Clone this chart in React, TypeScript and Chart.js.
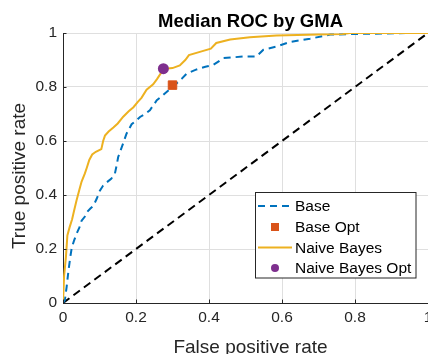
import React, { useEffect, useRef } from "react";
import { Chart, registerables } from "chart.js";

Chart.register(...registerables);

const TITLE = "Median ROC by GMA";
const X_LABEL = "False positive rate";
const Y_LABEL = "True positive rate";
const TICKS = [0, 0.2, 0.4, 0.6, 0.8, 1];

const BASE_FPR = [0, 0.005, 0.01, 0.015, 0.02, 0.024, 0.03, 0.037, 0.045, 0.051, 0.06, 0.065, 0.075, 0.083, 0.092, 0.101, 0.11, 0.12, 0.132, 0.142, 0.147, 0.151, 0.161, 0.174, 0.188, 0.2, 0.211, 0.225, 0.238, 0.257, 0.27, 0.279, 0.295, 0.311, 0.325, 0.339, 0.366, 0.39, 0.412, 0.44, 0.494, 0.53, 0.549, 0.585, 0.622, 0.677, 0.732, 0.79, 0.95, 1];
const BASE_TPR = [0, 0.01, 0.06, 0.12, 0.17, 0.205, 0.23, 0.256, 0.28, 0.305, 0.32, 0.336, 0.35, 0.36, 0.385, 0.416, 0.435, 0.447, 0.46, 0.478, 0.51, 0.54, 0.577, 0.627, 0.662, 0.675, 0.689, 0.7, 0.714, 0.751, 0.765, 0.776, 0.795, 0.813, 0.83, 0.85, 0.865, 0.875, 0.882, 0.907, 0.913, 0.913, 0.938, 0.95, 0.967, 0.979, 0.994, 0.996, 1, 1];

const NB_FPR = [0, 0.003, 0.008, 0.012, 0.018, 0.025, 0.03, 0.037, 0.045, 0.051, 0.06, 0.065, 0.072, 0.08, 0.09, 0.105, 0.11, 0.115, 0.125, 0.138, 0.15, 0.165, 0.18, 0.193, 0.205, 0.215, 0.229, 0.247, 0.258, 0.27, 0.28, 0.3, 0.32, 0.335, 0.345, 0.375, 0.405, 0.42, 0.458, 0.512, 0.585, 0.7, 0.767, 0.786, 1];
const NB_TPR = [0, 0.1, 0.17, 0.25, 0.28, 0.31, 0.34, 0.38, 0.42, 0.45, 0.48, 0.5, 0.53, 0.55, 0.56, 0.57, 0.6, 0.62, 0.635, 0.65, 0.665, 0.69, 0.71, 0.725, 0.745, 0.76, 0.79, 0.81, 0.83, 0.855, 0.868, 0.87, 0.88, 0.9, 0.918, 0.93, 0.942, 0.963, 0.976, 0.984, 0.991, 0.994, 0.996, 1, 1];

const BASE_OPT = [0.3, 0.807];
const NB_OPT = [0.275, 0.868];
const CHANCE_FPR = [0, 1];
const CHANCE_TPR = [0, 1];

const LEGEND_LABELS = ["Base", "Base Opt", "Naive Bayes", "Naive Bayes Opt"];

const BLUE = "#0072BD";
const ORANGE = "#D95319";
const YELLOW = "#EDB120";
const PURPLE = "#7E2F8E";
const AXIS = "#262626";
const GRID = "#dfdfdf";
const FONT = "'Liberation Sans', Arial, Helvetica, sans-serif";

const pts = (xs: number[], ys: number[]) => xs.map((x, i) => ({ x, y: ys[i] }));
const fmt = (v: number) => (v === 0 ? "0" : v === 1 ? "1" : String(Math.round(v * 10) / 10));

const decorPlugin = {
  id: "decor",
  afterDraw(chart: any) {
    const { ctx, chartArea, scales } = chart;
    const { left, bottom } = chartArea;
    ctx.save();
    ctx.strokeStyle = AXIS;
    ctx.lineWidth = 1;
    ctx.beginPath();
    TICKS.forEach((t) => {
      const py = Math.round(scales.y.getPixelForValue(t)) + 0.5;
      ctx.moveTo(left, py);
      ctx.lineTo(left + 3.5, py);
      const px = Math.round(scales.x.getPixelForValue(t)) + 0.5;
      ctx.moveTo(px, bottom);
      ctx.lineTo(px, bottom - 3.5);
    });
    ctx.stroke();

    ctx.fillStyle = "#000";
    ctx.font = `bold 18.5px ${FONT}`;
    ctx.textAlign = "center";
    ctx.textBaseline = "alphabetic";
    ctx.fillText(TITLE, 250.5, 26.5);

    ctx.fillStyle = AXIS;
    ctx.font = `19px ${FONT}`;
    ctx.fillText(X_LABEL, 250.5, 353);
    ctx.save();
    ctx.translate(24.5, 176);
    ctx.rotate(-Math.PI / 2);
    ctx.fillText(Y_LABEL, 0, 0);
    ctx.restore();

    const lx = 255.5, ly = 192.5, lw = 160.5, lh = 85.5;
    ctx.fillStyle = "#fff";
    ctx.fillRect(lx, ly, lw, lh);
    ctx.strokeStyle = AXIS;
    ctx.lineWidth = 1;
    ctx.strokeRect(lx, ly, lw, lh);
    const rows = [206, 227, 247.5, 268];
    const x0 = 258, x1 = 292, xm = 275;
    ctx.strokeStyle = BLUE;
    ctx.lineWidth = 2;
    ctx.setLineDash([7, 5]);
    ctx.beginPath();
    ctx.moveTo(x0, rows[0]);
    ctx.lineTo(x1, rows[0]);
    ctx.stroke();
    ctx.setLineDash([]);
    ctx.fillStyle = ORANGE;
    ctx.fillRect(xm - 4, rows[1] - 4, 8, 8);
    ctx.strokeStyle = YELLOW;
    ctx.beginPath();
    ctx.moveTo(x0, rows[2]);
    ctx.lineTo(x1, rows[2]);
    ctx.stroke();
    ctx.fillStyle = PURPLE;
    ctx.beginPath();
    ctx.arc(xm, rows[3], 4, 0, Math.PI * 2);
    ctx.fill();
    ctx.fillStyle = "#000";
    ctx.font = `15.5px ${FONT}`;
    ctx.textAlign = "left";
    ctx.textBaseline = "middle";
    LEGEND_LABELS.forEach((l, i) => ctx.fillText(l, 295, rows[i] + 1));
    ctx.restore();
  },
};

export default function App() {
  const ref = useRef<HTMLCanvasElement | null>(null);
  useEffect(() => {
    if (!ref.current) return;
    const chart = new Chart(ref.current, {
      type: "scatter",
      data: {
        datasets: [
          {
            label: "Naive Bayes Opt",
            data: [{ x: NB_OPT[0], y: NB_OPT[1] }],
            backgroundColor: PURPLE,
            borderColor: PURPLE,
            pointRadius: 5.5,
            pointStyle: "circle",
            borderWidth: 0,
            order: 0,
          },
          {
            label: "Naive Bayes",
            data: pts(NB_FPR, NB_TPR),
            showLine: true,
            borderColor: YELLOW,
            borderWidth: 2,
            pointRadius: 0,
            tension: 0,
            order: 1,
          },
          {
            label: "Base Opt",
            data: [{ x: BASE_OPT[0], y: BASE_OPT[1] }],
            backgroundColor: ORANGE,
            borderColor: ORANGE,
            pointRadius: 6,
            pointStyle: "rect",
            borderWidth: 1,
            order: 2,
          },
          {
            label: "Base",
            data: pts(BASE_FPR, BASE_TPR),
            showLine: true,
            borderColor: BLUE,
            borderWidth: 2,
            borderDash: [7, 5],
            pointRadius: 0,
            tension: 0,
            order: 3,
          },
          {
            label: "Chance",
            data: pts(CHANCE_FPR, CHANCE_TPR),
            showLine: true,
            borderColor: "#000",
            borderWidth: 2,
            borderDash: [8, 5],
            pointRadius: 0,
            tension: 0,
            order: 4,
          },
        ],
      },
      options: {
        responsive: false,
        animation: false,
        layout: { autoPadding: false, padding: { top: 33, left: 0, right: 0, bottom: 0 } },
        plugins: {
          legend: { display: false },
          title: { display: false },
          tooltip: { enabled: false },
        },
        scales: {
          x: {
            type: "linear",
            min: 0,
            max: 1,
            afterBuildTicks: (s: any) => {
              s.ticks = TICKS.map((v) => ({ value: v }));
            },
            ticks: {
              color: AXIS,
              font: { family: FONT, size: 15.5 },
              padding: 5,
              maxRotation: 0,
              autoSkip: false,
              callback: (v: any) => fmt(Number(v)),
            },
            grid: { color: GRID, lineWidth: 1, drawTicks: false },
            border: { color: AXIS, width: 1 },
            afterFit: (s: any) => {
              s.height = 51;
              s.paddingLeft = 0;
              s.paddingRight = 0;
            },
          },
          y: {
            type: "linear",
            min: 0,
            max: 1,
            afterBuildTicks: (s: any) => {
              s.ticks = TICKS.map((v) => ({ value: v }));
            },
            ticks: {
              color: AXIS,
              font: { family: FONT, size: 15.5 },
              padding: 6,
              autoSkip: false,
              callback: (v: any) => fmt(Number(v)),
            },
            grid: { color: GRID, lineWidth: 1, drawTicks: false },
            border: { color: AXIS, width: 1 },
            afterFit: (s: any) => {
              s.width = 63;
              s.paddingTop = 0;
              s.paddingBottom = 0;
            },
          },
        },
      } as any,
      plugins: [decorPlugin],
    });
    return () => chart.destroy();
  }, []);
  return (
    <div style={{ position: "fixed", left: 0, top: 0, width: 428, height: 354, background: "#fff", overflow: "hidden" }}>
      <canvas ref={ref} width={428} height={354} style={{ display: "block", width: 428, height: 354 }} />
    </div>
  );
}
